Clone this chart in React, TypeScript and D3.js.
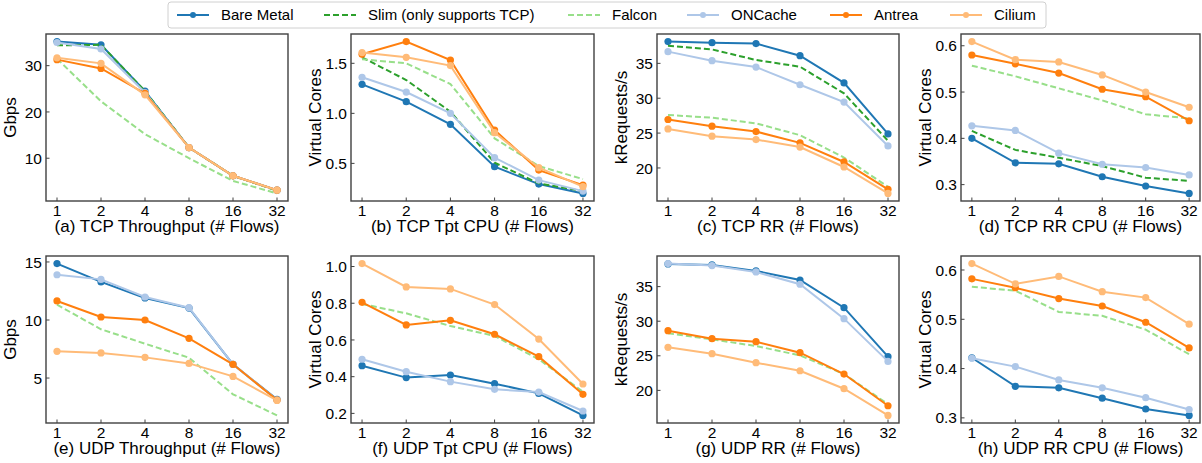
import * as d3 from 'd3';

const flows = ['1', '2', '4', '8', '16', '32'];
const seriesNames = ['Bare Metal', 'Slim (only supports TCP)', 'Falcon', 'ONCache', 'Antrea', 'Cilium'];
const seriesColors = ['#1f77b4', '#2ca02c', '#98df8a', '#aec7e8', '#ff7f0e', '#ffbb78'];
const seriesDashed = [false, true, true, false, false, false];

// rows follow seriesNames; null = not measured
const tcpTpt = [
  [35.2, 34.5, 24.5, 12.3, 6.2, 3.1],
  [34.4, 34.5, 24.5, 12.3, 6.2, 3.0],
  [31.5, 22.3, 15.2, 10.0, 5.1, 2.4],
  [35.0, 33.6, 24.2, 12.3, 6.2, 3.1],
  [31.3, 29.4, 24.0, 12.3, 6.2, 3.1],
  [31.7, 30.5, 23.7, 12.3, 6.2, 3.1],
];
const tcpTptCpu = [
  [1.29, 1.117, 0.89, 0.467, 0.293, 0.2],
  [1.56, 1.333, 1.017, 0.507, 0.3, 0.223],
  [1.54, 1.5, 1.293, 0.75, 0.473, 0.343],
  [1.36, 1.213, 1.0, 0.557, 0.333, 0.223],
  [1.59, 1.717, 1.533, 0.833, 0.433, 0.283],
  [1.607, 1.56, 1.477, 0.807, 0.457, 0.267],
];
const tcpRr = [
  [38.12, 37.97, 37.83, 36.1, 32.2, 24.88],
  [37.54, 37.0, 35.48, 34.52, 30.7, 23.9],
  [27.6, 27.2, 26.4, 24.7, 21.5, 17.3],
  [36.68, 35.38, 34.47, 31.93, 29.44, 23.16],
  [26.95, 25.99, 25.22, 23.6, 20.86, 16.93],
  [25.6, 24.55, 24.07, 23.0, 20.14, 16.35],
];
const tcpRrCpu = [
  [0.4, 0.347, 0.345, 0.317, 0.297, 0.281],
  [0.416, 0.375, 0.358, 0.34, 0.315, 0.308],
  [0.557, 0.534, 0.508, 0.482, 0.452, 0.443],
  [0.427, 0.417, 0.368, 0.344, 0.337, 0.321],
  [0.58, 0.561, 0.541, 0.506, 0.49, 0.438],
  [0.609, 0.57, 0.565, 0.537, 0.5, 0.467],
];
const udpTpt = [
  [14.86, 13.28, 11.9, 11.03, 6.18, 3.16],
  null,
  [11.32, 9.2, 7.96, 6.75, 3.6, 1.78],
  [13.9, 13.5, 11.98, 11.06, 6.18, 3.13],
  [11.64, 10.26, 10.0, 8.42, 6.18, 3.1],
  [7.3, 7.16, 6.78, 6.26, 5.14, 3.07],
];
const udpTptCpu = [
  [0.46, 0.395, 0.409, 0.362, 0.309, 0.189],
  null,
  [0.796, 0.745, 0.676, 0.622, 0.495, 0.318],
  [0.495, 0.427, 0.373, 0.331, 0.316, 0.213],
  [0.805, 0.682, 0.707, 0.631, 0.509, 0.304],
  [1.016, 0.889, 0.878, 0.793, 0.605, 0.36],
];
const udpRr = [
  [38.28, 38.14, 37.27, 35.96, 31.96, 24.87],
  null,
  [28.25, 27.38, 26.41, 25.06, 22.36, 18.0],
  [38.33, 38.04, 37.12, 35.34, 30.37, 24.19],
  [28.63, 27.47, 27.04, 25.45, 22.36, 17.78],
  [26.22, 25.3, 24.0, 22.84, 20.24, 16.38],
];
const udpRrCpu = [
  [0.422, 0.364, 0.361, 0.34, 0.318, 0.305],
  null,
  [0.566, 0.558, 0.515, 0.507, 0.479, 0.429],
  [0.421, 0.404, 0.377, 0.361, 0.341, 0.317],
  [0.582, 0.564, 0.542, 0.527, 0.494, 0.442],
  [0.613, 0.572, 0.587, 0.556, 0.544, 0.49],
];

const tpTicks = [10, 20, 30];
const cpuTicksB = [0.5, 1.0, 1.5];
const rrTicks = [20, 25, 30, 35];
const rrCpuTicks = [0.3, 0.4, 0.5, 0.6];
const udpTpTicks = [5, 10, 15];
const cpuTicksF = [0.2, 0.4, 0.6, 0.8, 1.0];

type Panel = {
  data: (number[] | null)[];
  title: string;
  ylabel: string;
  ticks: number[];
  fmt: (v: number) => string;
};

const intFmt = (v: number) => String(v);
const oneDec = d3.format('.1f');

const panels: Panel[] = [
  { data: tcpTpt, title: '(a) TCP Throughput (# Flows)', ylabel: 'Gbps', ticks: tpTicks, fmt: intFmt },
  { data: tcpTptCpu, title: '(b) TCP Tpt CPU (# Flows)', ylabel: 'Virtual Cores', ticks: cpuTicksB, fmt: oneDec },
  { data: tcpRr, title: '(c) TCP RR (# Flows)', ylabel: 'kRequests/s', ticks: rrTicks, fmt: intFmt },
  { data: tcpRrCpu, title: '(d) TCP RR CPU (# Flows)', ylabel: 'Virtual Cores', ticks: rrCpuTicks, fmt: oneDec },
  { data: udpTpt, title: '(e) UDP Throughput (# Flows)', ylabel: 'Gbps', ticks: udpTpTicks, fmt: intFmt },
  { data: udpTptCpu, title: '(f) UDP Tpt CPU (# Flows)', ylabel: 'Virtual Cores', ticks: cpuTicksF, fmt: oneDec },
  { data: udpRr, title: '(g) UDP RR (# Flows)', ylabel: 'kRequests/s', ticks: rrTicks, fmt: intFmt },
  { data: udpRrCpu, title: '(h) UDP RR CPU (# Flows)', ylabel: 'Virtual Cores', ticks: rrCpuTicks, fmt: oneDec },
];

const W = 1202;
const H = 463;
const colX = [[46, 288], [351, 594], [657, 899], [961, 1200]];
const rowY = [[34, 201], [256, 423]];
const FONT = '"Liberation Sans", Arial, sans-serif';
const frame = '#404040';

const legendX = [177, 324, 568, 687, 830, 950];

function Chart({ p, idx }: { p: Panel; idx: number }) {
  const [x0, x1] = colX[idx % 4];
  const [y0, y1] = rowY[Math.floor(idx / 4)];
  const x = d3.scalePoint<string>().domain(flows).range([x0, x1]).padding(0.25);
  const all = p.data.flatMap((s) => s ?? []);
  const lo = d3.min(all)!;
  const hi = d3.max(all)!;
  const pad = (hi - lo) * 0.05;
  const y = d3.scaleLinear().domain([lo - pad, hi + pad]).range([y1, y0]);
  const line = d3.line<number>().x((_, i) => x(flows[i])!).y((v) => y(v));

  return (
    <g>
      {p.data.map((s, si) =>
        s ? (
          <g key={si}>
            <path
              d={line(s)!}
              fill="none"
              stroke={seriesColors[si]}
              strokeWidth={2}
              strokeDasharray={seriesDashed[si] ? '6,3' : undefined}
            />
            {!seriesDashed[si] &&
              s.map((v, i) => <circle key={i} cx={x(flows[i])} cy={y(v)} r={3.6} fill={seriesColors[si]} />)}
          </g>
        ) : null
      )}
      <rect x={x0} y={y0} width={x1 - x0} height={y1 - y0} fill="none" stroke={frame} strokeWidth={1.4} />
      {flows.map((f) => (
        <g key={f}>
          <line x1={x(f)} x2={x(f)} y1={y1} y2={y1 - 3.5} stroke={frame} strokeWidth={1} />
          <text x={x(f)} y={y1 + 15} fontSize={15.5} textAnchor="middle" fill="#000">
            {f}
          </text>
        </g>
      ))}
      {p.ticks.map((t) => (
        <g key={t}>
          <line x1={x0} x2={x0 + 3.5} y1={y(t)} y2={y(t)} stroke={frame} strokeWidth={1} />
          <text x={x0 - 4} y={y(t)} dy="0.36em" fontSize={15.5} textAnchor="end" fill="#000">
            {p.fmt(t)}
          </text>
        </g>
      ))}
      <text x={(x0 + x1) / 2} y={y1 + 31} fontSize={17} textAnchor="middle" fill="#000">
        {p.title}
      </text>
      <text
        transform={`translate(${x0 - 30},${(y0 + y1) / 2}) rotate(-90)`}
        fontSize={17}
        textAnchor="middle"
        fill="#000"
      >
        {p.ylabel}
      </text>
    </g>
  );
}

export default function App() {
  return (
    <div style={{ position: 'absolute', left: 0, top: 0 }}>
      <svg width={W} height={H} fontFamily={FONT} style={{ display: 'block', background: '#fff' }}>
        <rect x={168} y={2} width={878} height={26} rx={3} fill="#fff" stroke="#d0d0d0" strokeWidth={1} />
        {seriesNames.map((n, i) => {
          const lx = legendX[i];
          return (
            <g key={n}>
              <line
                x1={lx}
                x2={lx + 32}
                y1={15}
                y2={15}
                stroke={seriesColors[i]}
                strokeWidth={2}
                strokeDasharray={seriesDashed[i] ? '6,3' : undefined}
              />
              {!seriesDashed[i] && <circle cx={lx + 16} cy={15} r={3} fill={seriesColors[i]} />}
              <text x={lx + 44} y={15} dy="0.35em" fontSize={15} fill="#000">
                {n}
              </text>
            </g>
          );
        })}
        {panels.map((p, i) => (
          <Chart key={i} p={p} idx={i} />
        ))}
      </svg>
    </div>
  );
}
